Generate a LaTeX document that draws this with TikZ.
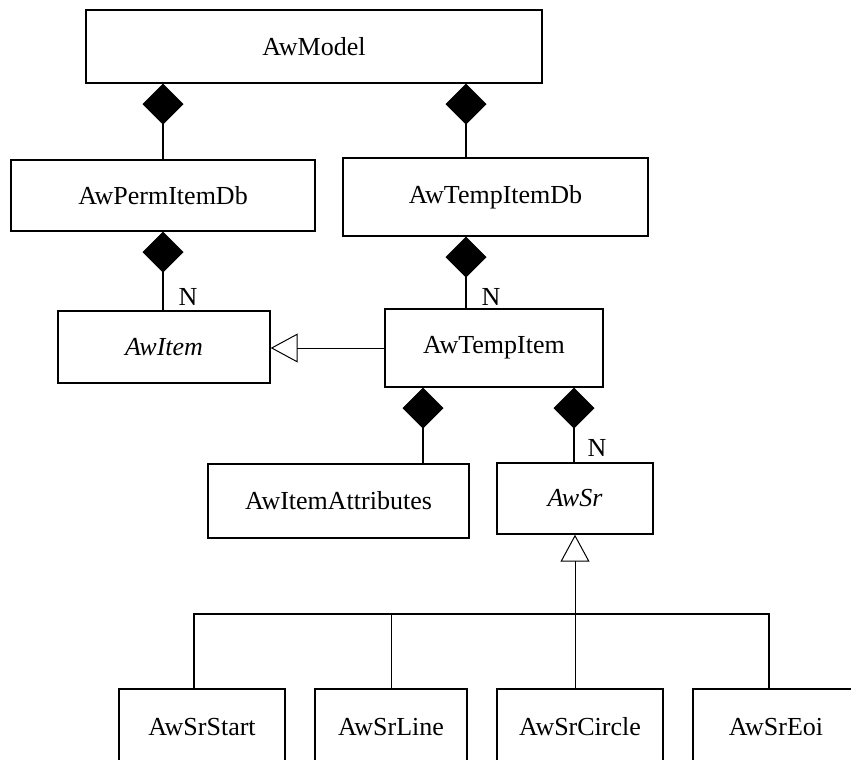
\documentclass[tikz,border=0pt]{standalone}
\usepackage{fontspec}
\setmainfont{Liberation Serif}
\usetikzlibrary{arrows.meta}

\begin{document}
\begin{tikzpicture}[
    x=1pt, y=-1pt,
    cls node/.style={rectangle, draw=black, line width=1.4pt, fill=white, inner sep=0pt, font=\fontsize{26}{30}\selectfont},
    mult node/.style={inner sep=0pt, font=\fontsize{26}{30}\selectfont},
    comp edge/.style={line width=1.3pt, {Diamond[length=41pt, width=41pt]}-},
    gen edge/.style={line width=1pt, -{Triangle[open, length=27pt, width=29pt]}},
    main edge/.style={line width=1.4pt},
    thin edge/.style={line width=1pt}
]
\useasboundingbox (0,0) rectangle (851,760);
\clip (0,0) rectangle (851,760);

% Klassen
\node[cls node, minimum width=456pt, minimum height=73pt] (AwModel) at (314,46.5) {AwModel};
\node[cls node, minimum width=304pt, minimum height=71pt] (AwPermItemDb) at (163,195.5) {AwPermItemDb};
\node[cls node, minimum width=305pt, minimum height=78pt] (AwTempItemDb) at (495.5,197) {AwTempItemDb};
\node[cls node, minimum width=212pt, minimum height=72pt] (AwItem) at (164,347) {\textit{AwItem}};
\node[cls node, minimum width=218pt, minimum height=78pt] (AwTempItem) at (494,348) {AwTempItem};
\node[cls node, minimum width=261pt, minimum height=74pt] (AwItemAttributes) at (338.5,501) {AwItemAttributes};
\node[cls node, minimum width=156pt, minimum height=71pt] (AwSr) at (575,498.5) {\textit{AwSr}};

\foreach \nm/\x/\w in {AwSrStart/202/166, AwSrLine/391/152, AwSrCircle/580/166, AwSrEoi/776/166}
    \node[cls node, minimum width=\w pt, minimum height=76pt] (\nm) at (\x,727) {\nm};

% Hilfspunkte
\coordinate (cT) at ([xshift=-29.5pt]AwTempItemDb.north);
\coordinate (cA) at ([xshift=-71pt]AwTempItem.south);
\coordinate (cS) at ([xshift=80pt]AwTempItem.south);
\coordinate (dStart) at ([xshift=-8pt]AwSrStart.north);
\coordinate (dEoi) at ([xshift=-7pt]AwSrEoi.north);
\coordinate (bus) at (0,614);

% Komposition
\draw[comp edge] (AwPermItemDb.north |- AwModel.south) -- (AwPermItemDb.north);
\draw[comp edge] (cT |- AwModel.south) -- (cT);
\draw[comp edge] (AwPermItemDb.south) -- (AwPermItemDb.south |- AwItem.north);
\draw[comp edge] (cT |- AwTempItemDb.south) -- (cT |- AwTempItem.north);
\draw[comp edge] (cA) -- (cA |- AwItemAttributes.north);
\draw[comp edge] (cS) -- (cS |- AwSr.north);

% Multiplizitaeten
\node[mult node] (nPerm) at (188,297) {N};
\node[mult node] (nTemp) at (491,297) {N};
\node[mult node] (nSr) at (597,448) {N};

% Vererbung
\draw[gen edge] (AwTempItem.west) -- (AwTempItem.west -| AwItem.east);
\draw[gen edge] (AwSr.south |- AwSrCircle.north) -- (AwSr.south);
\draw[main edge] (dStart) |- (bus -| dEoi) -- (dEoi);
\draw[thin edge] (AwSrLine.north) -- (AwSrLine.north |- bus);

\end{tikzpicture}
\end{document}
